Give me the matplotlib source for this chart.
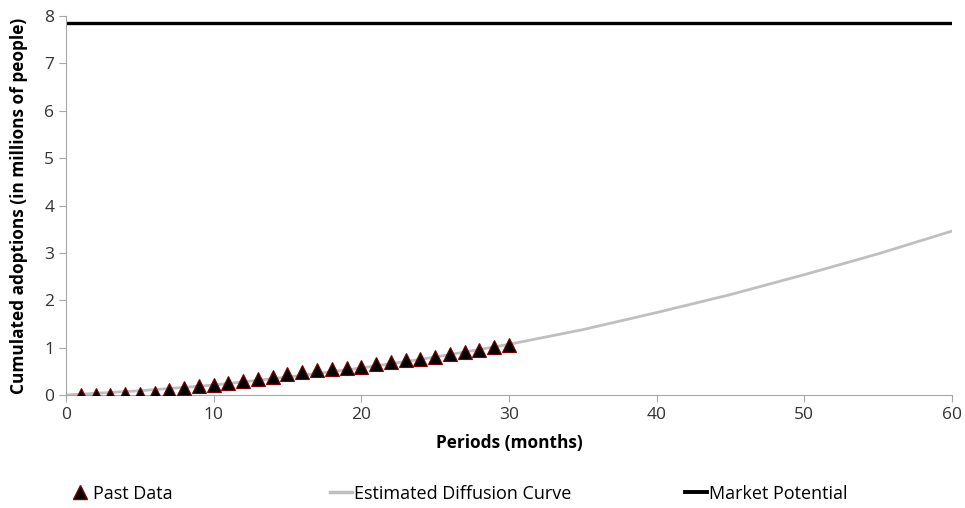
import matplotlib.pyplot as plt
from matplotlib.lines import Line2D

plt.rcParams['font.family'] = ['Open Sans', 'DejaVu Sans']

# past data (months 1..30), millions of people
past_periods = list(range(1, 31))
past_adoptions = [0.0, 0.0, 0.01, 0.02, 0.03, 0.05, 0.10, 0.14, 0.18, 0.21,
                  0.25, 0.29, 0.34, 0.38, 0.44, 0.49, 0.53, 0.54, 0.58, 0.60,
                  0.65, 0.69, 0.74, 0.77, 0.81, 0.86, 0.91, 0.94, 1.02, 1.06]

# estimated diffusion curve
curve_periods = [0, 5, 10, 15, 20, 25, 30, 35, 40, 45, 50, 55, 60]
curve_adoptions = [0.0, 0.09, 0.21, 0.38, 0.57, 0.80, 1.07, 1.38, 1.74, 2.12, 2.54, 2.98, 3.46]

# market potential
mp_periods = [0, 60]
mp_values = [7.85, 7.85]

fig = plt.figure(figsize=(9.65, 5.08), dpi=100)
ax = fig.add_axes([0.0684, 0.2224, 0.918, 0.746])

ax.plot(curve_periods, curve_adoptions, color='#bfbfbf', lw=2.0, zorder=2)
ax.plot(mp_periods, mp_values, color='black', lw=2.4, zorder=2)
ax.plot(past_periods, past_adoptions, linestyle='none', marker='^', ms=10,
        markerfacecolor='black', markeredgecolor='#7f0000', markeredgewidth=0.8, zorder=3)

ax.set_xlim(0, 60)
ax.set_ylim(0, 8)
ax.set_xticks(range(0, 61, 10))
ax.set_yticks(range(0, 9))
for s in ['top', 'right']:
    ax.spines[s].set_visible(False)
for s in ['left', 'bottom']:
    ax.spines[s].set_color('#a6a6a6')
ax.tick_params(colors='#a6a6a6', labelcolor='#333333', labelsize=12.5, length=5)

ax.set_xlabel('Periods (months)', fontsize=12.4, fontweight='bold', labelpad=8)
ax.set_ylabel('Cumulated adoptions (in millions of people)', fontsize=12.4,
              fontweight='bold', labelpad=12)

# legend entries placed along the bottom
entries = [
    (Line2D([], [], linestyle='none', marker='^', ms=10, markerfacecolor='black',
            markeredgecolor='#7f0000'), 'Past Data', 0.072),
    (Line2D([], [], color='#bfbfbf', lw=2.5), 'Estimated Diffusion Curve', 0.342),
    (Line2D([], [], color='black', lw=2.8), 'Market Potential', 0.71),
]
for handle, label, x in entries:
    fig.legend([handle], [label], loc='center left', bbox_to_anchor=(x, 0.028),
               frameon=False, fontsize=13, handlelength=1.2, handletextpad=0.1,
               borderaxespad=0, borderpad=0)

fig.savefig('out.png', dpi=100)
